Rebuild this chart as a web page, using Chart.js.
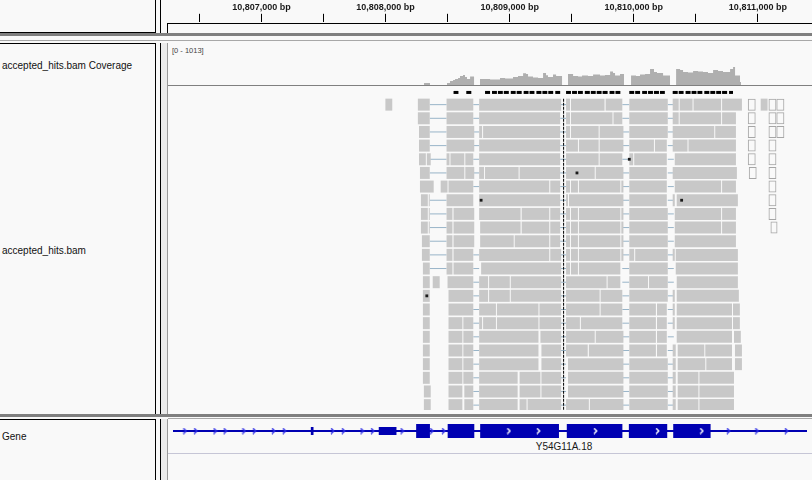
<!DOCTYPE html>
<html>
<head>
<meta charset="utf-8">
<title>IGV alignment view</title>
<script src="https://cdn.jsdelivr.net/npm/chart.js@4.4.1/dist/chart.umd.min.js"></script>
<style>
  html, body { margin:0; padding:0; background:#f9f9f9; }
  body { width:812px; height:480px; position:relative; overflow:hidden; font-family:"Liberation Sans", Arial, sans-serif; }
  .ln { position:absolute; }
  canvas { position:absolute; display:block; }
  .name { position:absolute; left:2px; font-size:10px; line-height:12px; color:#111; white-space:nowrap; }
</style>
</head>
<body>
<!-- header panel -->
<div class="ln" style="left:0;top:32px;width:155px;height:1px;background:#000"></div>
<div class="ln" style="left:155px;top:0;width:1px;height:33px;background:#000"></div>
<div class="ln" style="left:160px;top:0;width:1px;height:33px;background:#000"></div>
<div class="ln" style="left:167px;top:23px;width:1px;height:10px;background:#000"></div>
<div class="ln" style="left:167px;top:23px;width:645px;height:1px;background:#000"></div>
<!-- top divider -->
<div class="ln" style="left:0;top:33px;width:812px;height:3px;background:#7f7f7f"></div>
<div class="ln" style="left:0;top:40px;width:812px;height:1px;background:#a8a8a8"></div>
<!-- data panel frame -->
<div class="ln" style="left:0;top:43px;width:155px;height:1px;background:#000"></div>
<div class="ln" style="left:155px;top:43px;width:1px;height:371px;background:#000"></div>
<div class="ln" style="left:160px;top:43px;width:1px;height:371px;background:#000"></div>
<div class="ln" style="left:161px;top:43px;width:6px;height:371px;background:#ebebeb"></div>
<div class="ln" style="left:167px;top:43px;width:1px;height:371px;background:#9a9a9a"></div>
<div class="ln" style="left:168px;top:85px;width:644px;height:1px;background:#808080"></div>
<!-- bottom divider -->
<div class="ln" style="left:0;top:414px;width:812px;height:3px;background:#7f7f7f"></div>
<div class="ln" style="left:168px;top:418px;width:644px;height:1px;background:#a8a8a8"></div>
<!-- gene panel frame -->
<div class="ln" style="left:0;top:419px;width:155px;height:1px;background:#000"></div>
<div class="ln" style="left:155px;top:419px;width:1px;height:61px;background:#000"></div>
<div class="ln" style="left:160px;top:419px;width:1px;height:61px;background:#000"></div>
<div class="ln" style="left:161px;top:419px;width:6px;height:61px;background:#ebebeb"></div>
<div class="ln" style="left:167px;top:419px;width:1px;height:61px;background:#9a9a9a"></div>
<div class="ln" style="left:168px;top:453px;width:644px;height:1px;background:#c6c6d6"></div>

<!-- track names -->
<div class="name" style="top:60px">accepted_hits.bam Coverage</div>
<div class="name" style="top:245px">accepted_hits.bam</div>
<div class="name" style="top:431px">Gene</div>
<div style="position:absolute;left:172px;top:46px;font-size:7.5px;line-height:9px;color:#444">[0 - 1013]</div>
<div style="position:absolute;left:514px;top:441px;width:100px;text-align:center;font-size:10px;line-height:12px;color:#1a1a1a">Y54G11A.18</div>

<canvas id="ruler" width="644" height="66" style="left:168px;top:0"></canvas>
<canvas id="cov" width="644" height="40" style="left:168px;top:45px"></canvas>
<canvas id="reads" width="644" height="328" style="left:168px;top:86px"></canvas>
<canvas id="gene" width="644" height="24" style="left:168px;top:419px"></canvas>

<script>
// ---------------- data ----------------
const viewStart = 10806247;
const viewEnd = 10811436;

const rulerTicks = [10806500, 10807000, 10807500, 10808000, 10808500, 10809000, 10809500, 10810000, 10810500, 10811000];
const rulerLabels = ['', '10,807,000 bp', '', '10,808,000 bp', '', '10,809,000 bp', '', '10,810,000 bp', '', '10,811,000 bp'];

const coverageMax = 1013;
const covPos = [10806247, 10808310, 10808358, 10808495, 10808519, 10808544, 10808560, 10808584, 10808600, 10808624,
  10808640, 10808656, 10808681, 10808713, 10808761, 10808842, 10808922, 10808963, 10809027, 10809067,
  10809108, 10809132, 10809148, 10809188, 10809229, 10809269, 10809293, 10809309, 10809349, 10809374,
  10809390, 10809422, 10809470, 10809511, 10809551, 10809583, 10809631, 10809672, 10809728, 10809768,
  10809809, 10809833, 10809849, 10809889, 10809921, 10809978, 10810018, 10810050, 10810091, 10810131,
  10810163, 10810187, 10810236, 10810292, 10810341, 10810373, 10810397, 10810437, 10810478, 10810518,
  10810558, 10810598, 10810639, 10810679, 10810719, 10810776, 10810800, 10810816, 10810856, 10810864, 10811436];
const covDepth = [0, 50, 0, 50, 100, 125, 150, 180, 230, 255,
  200, 150, 215, 0, 150, 140, 180, 165, 200, 230,
  300, 280, 215, 190, 180, 305, 250, 200, 265, 230,
  225, 0, 280, 230, 215, 240, 230, 265, 240, 255,
  340, 305, 240, 280, 0, 240, 230, 265, 280, 405,
  330, 305, 240, 0, 405, 380, 330, 315, 355, 340,
  330, 305, 380, 355, 330, 405, 455, 240, 75, 0, 0];

const downsampled = [
  [10808544,10808584],[10808648,10808689],
  [10808801,10808842],[10808858,10808898],[10808906,10808946],[10808954,10808995],[10809011,10809051],[10809059,10809100],
  [10809116,10809156],[10809164,10809204],[10809220,10809261],[10809269,10809309],[10809317,10809357],[10809374,10809414],
  [10809462,10809502],[10809511,10809551],[10809559,10809599],[10809615,10809656],[10809664,10809704],[10809712,10809752],
  [10809760,10809801],[10809817,10809857],[10809865,10809905],
  [10809978,10810018],[10810026,10810066],[10810083,10810123],[10810131,10810171],[10810179,10810220],[10810228,10810268],
  [10810332,10810373],[10810381,10810421],[10810437,10810478],[10810486,10810526],[10810534,10810574],[10810590,10810631],
  [10810639,10810679],[10810687,10810727],[10810735,10810776],[10810792,10810824]];

const readRows = [
  [[10807988,10808044],[10808253,10808350],[10808487,10808705],[10808753,10809422],[10809462,10809494],[10809502,10809776],[10809785,10809921],[10809978,10810292],[10810332,10810381],[10810389,10810494],[10810502,10810727],[10810735,10810897],[10811050,10811106]],
  [[10808253,10808350],[10808487,10808705],[10808753,10809414],[10809462,10809494],[10809502,10809841],[10809849,10809921],[10809978,10810292],[10810332,10810381],[10810389,10810727],[10810735,10810848]],
  [[10808262,10808350],[10808487,10808713],[10808753,10808777],[10808785,10809414],[10809462,10809494],[10809502,10809728],[10809736,10809930],[10809978,10810292],[10810332,10810671],[10810679,10810848]],
  [[10808262,10808350],[10808487,10808713],[10808753,10809414],[10809462,10809559],[10809567,10809728],[10809736,10809930],[10809978,10810179],[10810187,10810284],[10810332,10810453],[10810461,10810848]],
  [[10808262,10808318],[10808326,10808358],[10808487,10808511],[10808519,10808632],[10808640,10808705],[10808753,10809414],[10809462,10809728],[10809736,10809921],[10809978,10810010],[10810018,10810284],[10810349,10810848]],
  [[10808270,10808350],[10808487,10808632],[10808640,10808713],[10808753,10808793],[10808801,10809075],[10809083,10809414],[10809462,10809696],[10809704,10809930],[10809978,10810284],[10810332,10810856]],
  [[10808270,10808382],[10808439,10808495],[10808503,10808705],[10808753,10809325],[10809333,10809414],[10809462,10809494],[10809502,10809559],[10809567,10809905],[10809913,10809930],[10809978,10810284],[10810349,10810727],[10810735,10810848]],
  [[10808278,10808334],[10808342,10808350],[10808487,10808705],[10808753,10809414],[10809462,10809478],[10809486,10809930],[10809978,10810284],[10810332,10810349],[10810365,10810864]],
  [[10808278,10808334],[10808342,10808350],[10808487,10808535],[10808544,10808713],[10808753,10809091],[10809100,10809325],[10809333,10809414],[10809462,10809494],[10809502,10809559],[10809567,10809905],[10809913,10809930],[10809978,10810292],[10810349,10810727],[10810735,10810848]],
  [[10808278,10808334],[10808342,10808350],[10808487,10808535],[10808544,10808713],[10808761,10809091],[10809100,10809325],[10809333,10809414],[10809462,10809494],[10809502,10809559],[10809567,10809905],[10809913,10809930],[10809978,10810292],[10810349,10810727],[10810735,10810848]],
  [[10808286,10808350],[10808487,10808535],[10808544,10808713],[10808761,10809035],[10809043,10809325],[10809333,10809414],[10809462,10809494],[10809502,10809559],[10809567,10809905],[10809913,10809930],[10809978,10810292],[10810349,10810848]],
  [[10808286,10808350],[10808487,10808535],[10808544,10808705],[10808753,10809325],[10809333,10809422],[10809462,10809494],[10809502,10809559],[10809567,10809905],[10809913,10809930],[10809978,10810018],[10810026,10810292],[10810332,10810349],[10810357,10810864]],
  [[10808294,10808350],[10808487,10808535],[10808544,10808705],[10808769,10809422],[10809462,10809494],[10809502,10809559],[10809567,10809905],[10809978,10810292],[10810357,10810864]],
  [[10808294,10808350],[10808374,10808431],[10808495,10808705],[10808753,10808826],[10808834,10809003],[10809011,10809422],[10809462,10809793],[10809801,10809905],[10809978,10810131],[10810139,10810292],[10810365,10810864]],
  [[10808294,10808350],[10808503,10808705],[10808753,10808826],[10808834,10809003],[10809011,10809422],[10809462,10809736],[10809744,10809921],[10809978,10810292],[10810332,10810349],[10810365,10810872]],
  [[10808294,10808350],[10808503,10808705],[10808753,10808890],[10808898,10809237],[10809245,10809422],[10809462,10809736],[10809744,10809921],[10809978,10810195],[10810204,10810284],[10810332,10810349],[10810365,10810816],[10810824,10810880]],
  [[10808294,10808350],[10808503,10808616],[10808624,10808705],[10808753,10808777],[10808785,10808890],[10808898,10809237],[10809245,10809422],[10809462,10809575],[10809583,10809921],[10809978,10810195],[10810204,10810284],[10810332,10810349],[10810365,10810816],[10810824,10810880]],
  [[10808294,10808350],[10808503,10808616],[10808624,10808705],[10808753,10809237],[10809253,10809422],[10809462,10809696],[10809704,10809930],[10809978,10810195],[10810204,10810284],[10810365,10810816],[10810832,10810888]],
  [[10808294,10808350],[10808503,10808616],[10808624,10808705],[10808753,10809237],[10809261,10809422],[10809462,10809639],[10809648,10809930],[10809978,10810195],[10810204,10810284],[10810332,10810357],[10810373,10810590],[10810598,10810816],[10810840,10810897]],
  [[10808294,10808350],[10808503,10808616],[10808624,10808705],[10808753,10809237],[10809261,10809422],[10809478,10809930],[10809978,10810292],[10810332,10810357],[10810373,10810598],[10810606,10810816],[10810840,10810897]],
  [[10808294,10808350],[10808503,10808616],[10808624,10808705],[10808753,10809067],[10809083,10809253],[10809261,10809422],[10809478,10809930],[10809978,10810292],[10810332,10810357],[10810373,10810542],[10810550,10810832]],
  [[10808302,10808358],[10808503,10808616],[10808632,10808705],[10808753,10809067],[10809083,10809253],[10809261,10809422],[10809478,10809930],[10809978,10810292],[10810332,10810357],[10810373,10810542],[10810550,10810832]],
  [[10808302,10808358],[10808503,10808616],[10808632,10808705],[10808753,10809067],[10809083,10809140],[10809148,10809422],[10809462,10809648],[10809656,10809930],[10809978,10810292],[10810332,10810357],[10810373,10810542],[10810550,10810832]]
];

// hollow (mapping-quality-zero) reads: [start, end, row]
const hollowReads = [
  [10810945,10811009,0],[10810945,10811009,1],[10810945,10811009,2],[10810945,10811009,3],[10810945,10811009,4],[10810953,10811017,5],
  [10811114,10811178,0],[10811114,10811178,1],[10811114,10811178,2],[10811114,10811178,3],[10811114,10811178,4],
  [10811114,10811178,5],[10811114,10811178,6],[10811114,10811178,7],[10811114,10811178,8],[10811130,10811187,9],
  [10811178,10811243,0],[10811178,10811243,1],[10811178,10811243,2]
];

const introns = [[10808350,10808487],[10808705,10808753],[10809414,10809462],[10809921,10809978],[10810292,10810341]];
const rowIntrons = [
  [0,1,2,3,4],[0,1,2,3,4],[0,1,2,3,4],[0,1,2,3,4],[0,1,2,3,4],[0,1,2,3,4],
  [1,2,3,4],
  [0,2,3,4],[0,2,3,4],[0,2,3,4],[0,2,3,4],
  [0,1,2,3,4],[0,1,2,3,4],
  [1,2,3,4],[1,2,3,4],[1,2,3,4],[1,2,3,4],[1,2,3,4],[1,2,3,4],[1,2,3,4],[1,2,3,4],[1,2,3,4],[1,2,3,4]
];

const mismatchPos = [10809978, 10809551, 10808769, 10810405, 10808326];
const mismatchRow = [4, 5, 7, 7, 14];

const centerLineBp = 10809442;

// gene model
const geneSpan = [10806000, 10811700];
const geneThin = [[10807375,10807397],[10807931,10808076]];
const geneExons = [[10808237,10808350],[10808495,10808713],[10808761,10809406],[10809470,10809925],[10809978,10810292],[10810341,10810647]];
const strandArrowsIntron = [10806344,10806432,10806591,10806674,10806827,10806913,10807069,10807158,10807552,10807641,
  10807794,10807880,10808122,10808364,10808461,10810792,10811025,10811267];
const strandArrowsExon = [10808995,10809237,10809704,10810212,10810574];

// ---------------- rendering ----------------
Chart.defaults.font.family = '"Liberation Sans", Arial, sans-serif';
const base = {
  responsive: false, animation: false, events: [],
  layout: { padding: 0 },
  plugins: { legend: { display: false }, tooltip: { enabled: false } }
};
const xs = () => ({ type: 'linear', min: viewStart, max: viewEnd, display: false, offset: false });

// ruler
new Chart(document.getElementById('ruler'), {
  type: 'scatter',
  data: { datasets: [{ data: [] }] },
  options: Object.assign({}, base, {
    layout: { padding: { top: 1, left: 0, right: 0, bottom: 0 } },
    scales: {
      x: {
        type: 'linear', position: 'top', min: viewStart, max: viewEnd, offset: false,
        afterBuildTicks: s => { s.ticks = rulerTicks.map(v => ({ value: v })); },
        ticks: { autoSkip: false, maxRotation: 0, padding: 1, color: '#1a1a1a',
                 font: { size: 9, weight: 'bold' }, callback: (v, i) => rulerLabels[i] },
        grid: { drawOnChartArea: false, drawTicks: true, tickLength: 8, color: '#000', lineWidth: 1 },
        border: { display: false }
      },
      y: { display: false, min: 0, max: 1 }
    }
  })
});

// coverage
new Chart(document.getElementById('cov'), {
  type: 'line',
  data: { datasets: [{
    data: covPos.map((x, i) => ({ x: x, y: covDepth[i] })),
    stepped: true, fill: 'origin', backgroundColor: 'rgb(175,175,175)',
    borderWidth: 0, borderColor: 'rgba(0,0,0,0)', pointRadius: 0
  }] },
  options: Object.assign({}, base, {
    scales: { x: xs(), y: { type: 'linear', min: 0, max: coverageMax, display: false, offset: false } }
  })
});

// alignments
const rowPitch = 14, firstRowCenter = 15, readsHeight = 328;
const yMin = -firstRowCenter / rowPitch;
const yMax = yMin + readsHeight / rowPitch;
const dsRowValue = yMin + 2.5 / rowPitch;
const readsTop = yMin + 9 / rowPitch;

const readData = [];
readRows.forEach((row, r) => row.forEach(seg => readData.push({ x: seg.slice(), y: r })));
const hollowData = hollowReads.map(h => ({ x: [h[0], h[1]], y: h[2] }));
const connData = [];
rowIntrons.forEach((list, r) => list.forEach(k => connData.push({ x: introns[k].slice(), y: r })));
const dsData = downsampled.map(d => ({ x: d.slice(), y: dsRowValue }));
const mmData = mismatchPos.map((p, i) => ({ x: p, y: mismatchRow[i] }));

const barCommon = { type: 'bar', indexAxis: 'y', grouped: false, inflateAmount: 0, borderWidth: 0 };
new Chart(document.getElementById('reads'), {
  type: 'bar',
  data: { datasets: [
    { type: 'line', data: [{ x: centerLineBp, y: readsTop }, { x: centerLineBp, y: yMax }],
      borderColor: '#000', borderWidth: 1, borderDash: [3, 1], pointRadius: 0, fill: false, order: 0 },
    { type: 'scatter', data: mmData, pointStyle: 'rect', pointRadius: 2, backgroundColor: '#1a1a1a',
      borderWidth: 0, order: 1 },
    Object.assign({}, barCommon, { data: readData, barThickness: 12, backgroundColor: 'rgb(200,200,200)', order: 2 }),
    Object.assign({}, barCommon, { data: hollowData, barThickness: 12, backgroundColor: 'rgba(0,0,0,0)',
      borderWidth: 1, borderColor: '#a6a6a6', borderSkipped: false, order: 2 }),
    Object.assign({}, barCommon, { data: dsData, barThickness: 3, backgroundColor: '#000', order: 2 }),
    Object.assign({}, barCommon, { data: connData, barThickness: 1, backgroundColor: '#98b4c8', order: 3 })
  ] },
  options: Object.assign({}, base, {
    scales: { x: xs(), y: { type: 'linear', min: yMin, max: yMax, reverse: true, display: false, offset: false } }
  })
});

// gene track
function chevron(color) {
  const c = document.createElement('canvas');
  c.width = 5; c.height = 7;
  const g = c.getContext('2d');
  g.strokeStyle = color; g.lineWidth = 1.4;
  g.beginPath(); g.moveTo(1, 0.8); g.lineTo(3.8, 3.5); g.lineTo(1, 6.2); g.stroke();
  return c;
}
const geneColor = 'rgb(0,0,178)';
new Chart(document.getElementById('gene'), {
  type: 'bar',
  data: { datasets: [
    { type: 'scatter', data: strandArrowsIntron.map(x => ({ x: x, y: 0 })), pointStyle: chevron('#2a2ae6'), pointRadius: 3, order: 0 },
    { type: 'scatter', data: strandArrowsExon.map(x => ({ x: x, y: 0 })), pointStyle: chevron('#ffffff'), pointRadius: 3, order: 0 },
    Object.assign({}, barCommon, { data: geneExons.map(e => ({ x: e.slice(), y: 0 })), barThickness: 14, backgroundColor: geneColor, order: 1 }),
    Object.assign({}, barCommon, { data: geneThin.map(e => ({ x: e.slice(), y: 0 })), barThickness: 8, backgroundColor: geneColor, order: 1 }),
    Object.assign({}, barCommon, { data: [{ x: geneSpan.slice(), y: 0 }], barThickness: 2, backgroundColor: geneColor, order: 2 })
  ] },
  options: Object.assign({}, base, {
    scales: { x: xs(), y: { type: 'linear', min: -1, max: 1, display: false, offset: false } }
  })
});
</script>
</body>
</html>
